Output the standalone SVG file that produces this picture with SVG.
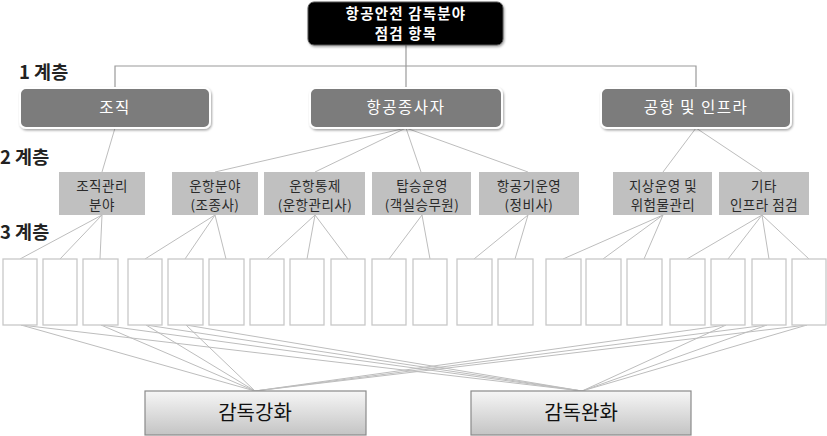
<svg xmlns="http://www.w3.org/2000/svg" width="827" height="436" viewBox="0 0 827 436">
<defs>
<linearGradient id="gb" x1="0" y1="0" x2="0" y2="1">
<stop offset="0" stop-color="#f6f6f6"/>
<stop offset="1" stop-color="#c4c4c4"/>
</linearGradient>
<filter id="sh" x="-10%" y="-20%" width="120%" height="150%">
<feDropShadow dx="1" dy="1.5" stdDeviation="1.2" flood-color="#000" flood-opacity="0.35"/>
</filter>
</defs>
<style>
text{font-family:"Noto Sans CJK KR","Noto Sans",sans-serif;text-anchor:middle}
.top{fill:#000;stroke:#555;stroke-width:1}
.toptx{fill:#fff;font-size:14.5px;font-weight:bold;letter-spacing:1.2px}
.l1{fill:#7b7b7b;stroke:#fff;stroke-width:2}
.l1tx{fill:#fff;font-size:15.5px;letter-spacing:1.5px}
.l2{fill:#c0c0c0}
.l2tx{fill:#2a2a2a;font-size:13.5px;letter-spacing:0.5px}
.l3{fill:#fff;stroke:#c8c8c8;stroke-width:1.3}
.lev{fill:#222;font-size:18.5px;font-weight:bold;text-anchor:start}
.bot{fill:url(#gb);stroke:#8a8a8a;stroke-width:1.2}
.bottx{fill:#111;font-size:20px}
.c0{stroke:#9a9a9a;stroke-width:1.2;fill:none}
.c{stroke:#bdbdbd;stroke-width:1;fill:none}
</style>
<rect width="827" height="436" fill="#fff"/>
<g id="connectors">
<polyline class="c0" points="115,88 115,66 696,66 696,88"/>
<line class="c0" x1="406" y1="45" x2="406" y2="88"/>
<line class="c" x1="115" y1="128" x2="102" y2="172"/>
<line class="c" x1="406" y1="128" x2="215" y2="172"/>
<line class="c" x1="406" y1="128" x2="315" y2="172"/>
<line class="c" x1="406" y1="128" x2="421" y2="172"/>
<line class="c" x1="406" y1="128" x2="528" y2="172"/>
<line class="c" x1="696" y1="128" x2="663" y2="172"/>
<line class="c" x1="696" y1="128" x2="762" y2="172"/>
<line class="c" x1="102" y1="215" x2="20" y2="259"/>
<line class="c" x1="102" y1="215" x2="60" y2="259"/>
<line class="c" x1="102" y1="215" x2="100" y2="259"/>
<line class="c" x1="215" y1="215" x2="145" y2="259"/>
<line class="c" x1="215" y1="215" x2="185" y2="259"/>
<line class="c" x1="215" y1="215" x2="226" y2="259"/>
<line class="c" x1="315" y1="215" x2="267" y2="259"/>
<line class="c" x1="315" y1="215" x2="307" y2="259"/>
<line class="c" x1="315" y1="215" x2="348" y2="259"/>
<line class="c" x1="422" y1="215" x2="389" y2="259"/>
<line class="c" x1="422" y1="215" x2="430" y2="259"/>
<line class="c" x1="528" y1="215" x2="474" y2="259"/>
<line class="c" x1="528" y1="215" x2="515" y2="259"/>
<line class="c" x1="663" y1="215" x2="563" y2="259"/>
<line class="c" x1="663" y1="215" x2="603" y2="259"/>
<line class="c" x1="663" y1="215" x2="644" y2="259"/>
<line class="c" x1="762" y1="215" x2="687" y2="259"/>
<line class="c" x1="762" y1="215" x2="728" y2="259"/>
<line class="c" x1="762" y1="215" x2="769" y2="259"/>
<line class="c" x1="762" y1="215" x2="809" y2="259"/>
<line class="c" x1="21" y1="325" x2="255" y2="391"/>
<line class="c" x1="101" y1="325" x2="255" y2="391"/>
<line class="c" x1="146" y1="325" x2="255" y2="391"/>
<line class="c" x1="186" y1="325" x2="255" y2="391"/>
<line class="c" x1="21" y1="325" x2="582" y2="391"/>
<line class="c" x1="101" y1="325" x2="582" y2="391"/>
<line class="c" x1="146" y1="325" x2="582" y2="391"/>
<line class="c" x1="186" y1="325" x2="582" y2="391"/>
<line class="c" x1="726" y1="325" x2="255" y2="391"/>
<line class="c" x1="767" y1="325" x2="255" y2="391"/>
<line class="c" x1="807" y1="325" x2="255" y2="391"/>
<line class="c" x1="726" y1="325" x2="582" y2="391"/>
<line class="c" x1="767" y1="325" x2="582" y2="391"/>
<line class="c" x1="807" y1="325" x2="582" y2="391"/>
</g>
<g id="root">
<rect class="top" x="308" y="2" width="195" height="43" rx="6" filter="url(#sh)"/>
<text class="toptx" x="406" y="19">항공안전 감독분야</text>
<text class="toptx" x="406" y="39">점검 항목</text>
</g>
<g id="levels">
<text class="lev" x="19" y="79">1 계층</text>
<text class="lev" x="0" y="164">2 계층</text>
<text class="lev" x="0" y="239">3 계층</text>
</g>
<g id="n-org"><rect class="l1" x="20" y="88" width="190" height="40" rx="6" filter="url(#sh)"/><text class="l1tx" x="115" y="113">조직</text></g>
<g id="n-crew"><rect class="l1" x="310" y="88" width="192" height="40" rx="6" filter="url(#sh)"/><text class="l1tx" x="406" y="113">항공종사자</text></g>
<g id="n-airport"><rect class="l1" x="601" y="88" width="190" height="40" rx="6" filter="url(#sh)"/><text class="l1tx" x="696" y="113">공항 및 인프라</text></g>
<g id="n-orgmgmt"><rect class="l2" x="59" y="172" width="86" height="43"/><text class="l2tx" x="102" y="191">조직관리</text><text class="l2tx" x="102" y="210">분야</text></g>
<g id="n-flight"><rect class="l2" x="172" y="172" width="86" height="43"/><text class="l2tx" x="215" y="191">운항분야</text><text class="l2tx" x="215" y="210">(조종사)</text></g>
<g id="n-dispatch"><rect class="l2" x="264" y="172" width="101" height="43"/><text class="l2tx" x="315" y="191">운항통제</text><text class="l2tx" x="315" y="210">(운항관리사)</text></g>
<g id="n-cabin"><rect class="l2" x="372" y="172" width="99" height="43"/><text class="l2tx" x="422" y="191">탑승운영</text><text class="l2tx" x="422" y="210">(객실승무원)</text></g>
<g id="n-maint"><rect class="l2" x="479" y="172" width="100" height="43"/><text class="l2tx" x="529" y="191">항공기운영</text><text class="l2tx" x="529" y="210">(정비사)</text></g>
<g id="n-ground"><rect class="l2" x="613" y="172" width="99" height="43"/><text class="l2tx" x="663" y="191">지상운영 및</text><text class="l2tx" x="663" y="210">위험물관리</text></g>
<g id="n-infra"><rect class="l2" x="719" y="172" width="90" height="43"/><text class="l2tx" x="764" y="191">기타</text><text class="l2tx" x="764" y="210">인프라 점검</text></g>
<g id="n-items">
<rect class="l3" x="3" y="259" width="34" height="66"/>
<rect class="l3" x="43" y="259" width="34" height="66"/>
<rect class="l3" x="83" y="259" width="35" height="66"/>
<rect class="l3" x="128" y="259" width="34" height="66"/>
<rect class="l3" x="168" y="259" width="35" height="66"/>
<rect class="l3" x="209" y="259" width="35" height="66"/>
<rect class="l3" x="250" y="259" width="34" height="66"/>
<rect class="l3" x="290" y="259" width="34" height="66"/>
<rect class="l3" x="331" y="259" width="34" height="66"/>
<rect class="l3" x="372" y="259" width="34" height="66"/>
<rect class="l3" x="413" y="259" width="34" height="66"/>
<rect class="l3" x="457" y="259" width="35" height="66"/>
<rect class="l3" x="498" y="259" width="35" height="66"/>
<rect class="l3" x="546" y="259" width="35" height="66"/>
<rect class="l3" x="586" y="259" width="35" height="66"/>
<rect class="l3" x="627" y="259" width="35" height="66"/>
<rect class="l3" x="670" y="259" width="35" height="66"/>
<rect class="l3" x="711" y="259" width="34" height="66"/>
<rect class="l3" x="752" y="259" width="34" height="66"/>
<rect class="l3" x="792" y="259" width="34" height="66"/>
</g>
<g id="n-strengthen"><rect class="bot" x="145" y="391" width="221" height="44"/><text class="bottx" x="255" y="420">감독강화</text></g>
<g id="n-relax"><rect class="bot" x="471" y="391" width="220" height="44"/><text class="bottx" x="581" y="420">감독완화</text></g>
</svg>
